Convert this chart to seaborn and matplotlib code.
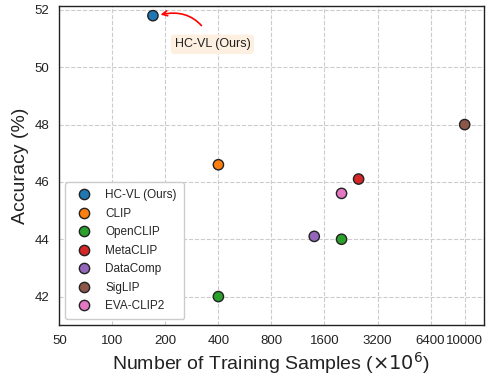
import numpy as np
import pandas as pd
import matplotlib
matplotlib.use("Agg")
import matplotlib.pyplot as plt
import seaborn as sns

# data
models = ["HC-VL (Ours)", "CLIP", "OpenCLIP", "OpenCLIP", "MetaCLIP",
          "DataComp", "SigLIP", "EVA-CLIP2"]
samples = [170, 400, 400, 2000, 2500, 1400, 10000, 2000]
accuracy = [51.8, 46.6, 42.0, 44.0, 46.1, 44.1, 48.0, 45.6]
order = ["HC-VL (Ours)", "CLIP", "OpenCLIP", "MetaCLIP", "DataComp",
         "SigLIP", "EVA-CLIP2"]
xticks = [50, 100, 200, 400, 800, 1600, 3200, 6400, 10000]
yticks = [42, 44, 46, 48, 50, 52]

df = pd.DataFrame({"model": models, "samples": samples, "acc": accuracy})

sns.set_style("whitegrid")
plt.rcParams['font.family'] = ['Liberation Sans', 'DejaVu Sans']

fig, ax = plt.subplots(figsize=(4.86, 3.76), dpi=100)
sns.scatterplot(data=df, x="samples", y="acc", hue="model", hue_order=order,
                palette="tab10", s=55, edgecolor="#222222", linewidth=1.0,
                ax=ax, zorder=3)

ax.set_xscale("log", base=2)
ax.set_xlim(50, 12800)
ax.set_ylim(41, 52.15)
ax.set_xticks(xticks)
ax.set_xticklabels([str(t) for t in xticks])
ax.set_yticks(yticks)
ax.minorticks_off()
ax.tick_params(labelsize=9.5, colors="#222222")
ax.grid(True, linestyle="--", color="#cccccc", linewidth=0.8)
for sp in ax.spines.values():
    sp.set_color("#222222")
    sp.set_linewidth(1.0)

ax.set_xlabel(r"Number of Training Samples ($\times 10^6$)", fontsize=14,
              color="#222222", labelpad=2)
ax.set_ylabel("Accuracy (%)", fontsize=14, color="#222222")

ax.annotate("HC-VL (Ours)", xy=(178, 51.8), xytext=(370, 50.8),
            fontsize=9, ha="center", va="center", color="#222222",
            bbox=dict(boxstyle="round,pad=0.3", fc="#fdf0e0", ec="none"),
            arrowprops=dict(arrowstyle="->", color="red", lw=1.2,
                            connectionstyle="arc3,rad=0.45",
                            shrinkA=8, shrinkB=3))

ax.legend(loc="lower left", fontsize=8.5, frameon=True, framealpha=1,
          borderpad=0.6, labelspacing=0.55, handletextpad=0.8)

fig.subplots_adjust(left=0.122, right=0.995, top=0.985, bottom=0.135)
fig.savefig("out.png", dpi=100)
